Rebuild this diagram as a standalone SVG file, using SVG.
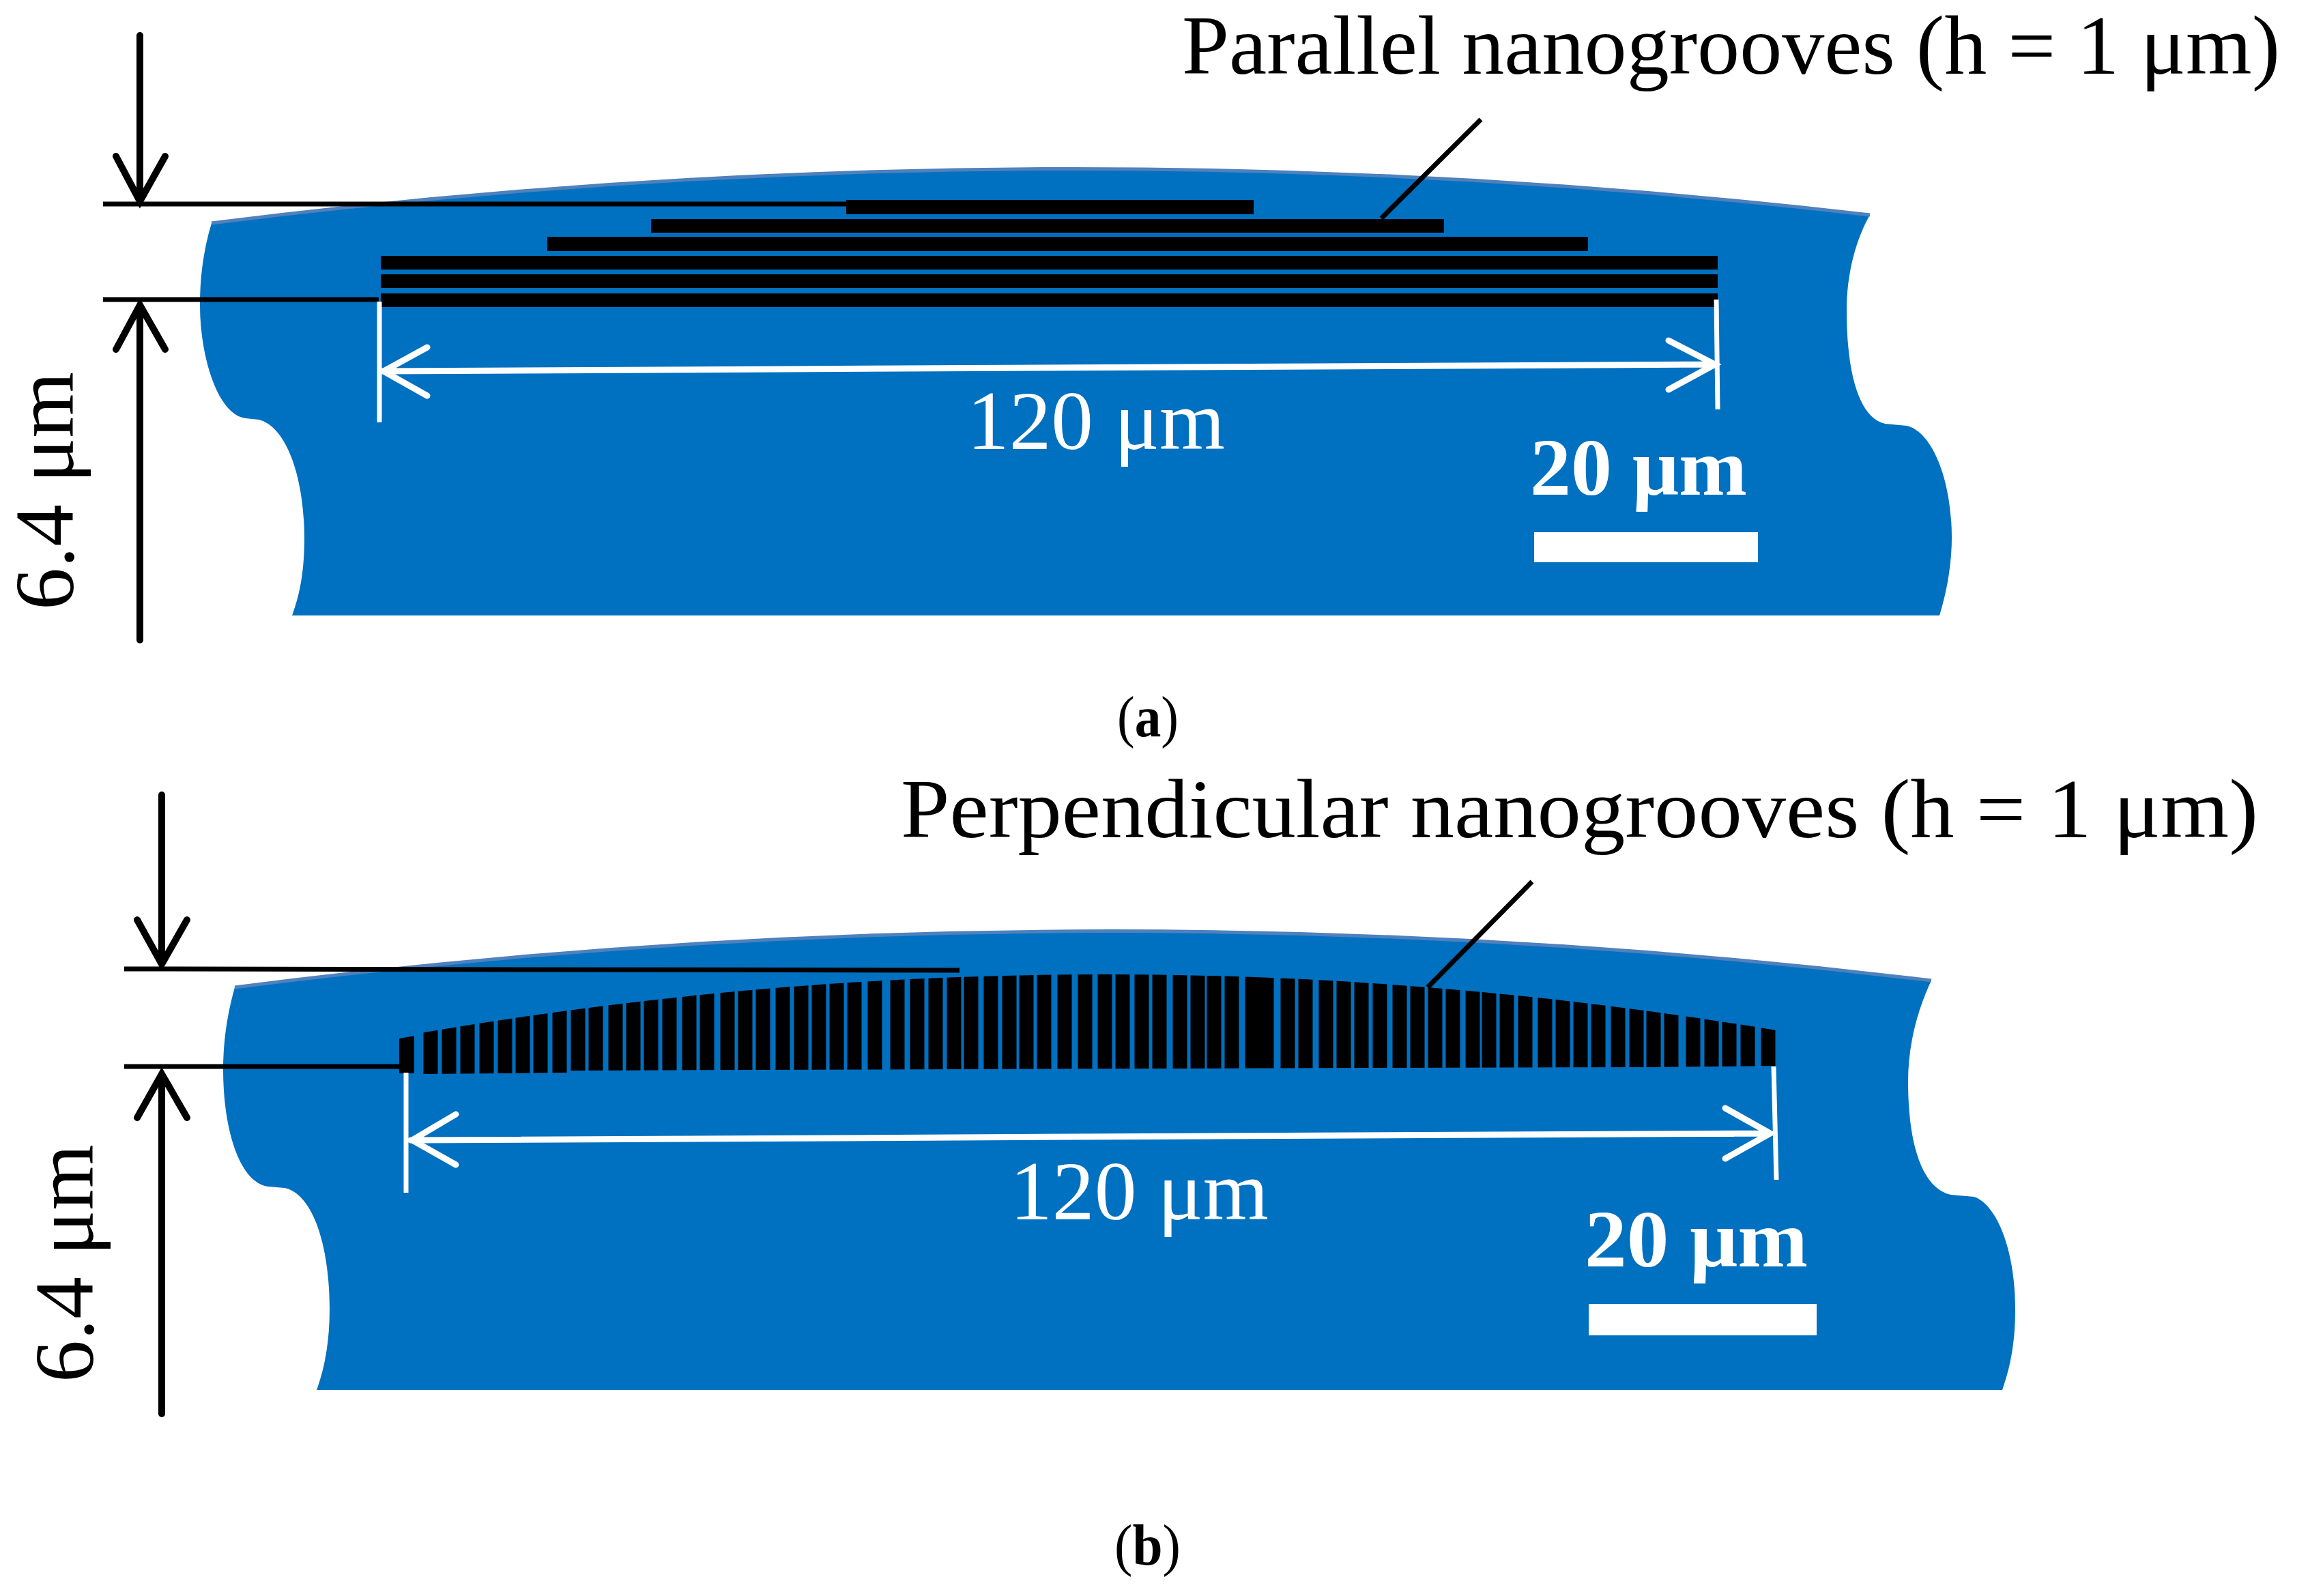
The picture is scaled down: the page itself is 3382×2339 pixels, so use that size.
<svg xmlns="http://www.w3.org/2000/svg" width="3382" height="2339" viewBox="0 0 3382 2339">
<style>
.blue{fill:#0070c0}
.rim{fill:none;stroke:#4f81bd;stroke-width:5}
.bar{fill:#000}
.k{fill:none;stroke:#000;stroke-width:10;stroke-linecap:round;stroke-linejoin:miter}
.kl{fill:none;stroke:#000;stroke-width:7}
.w{fill:none;stroke:#fff;stroke-width:9;stroke-linecap:round}
.wl{fill:none;stroke:#fff;stroke-width:7}
text{font-family:"Liberation Serif","Times New Roman",serif}
.lbl{font-size:122px;fill:#000}
.dim{font-size:122px;fill:#fff}
.sc{font-size:118px;fill:#fff;font-weight:bold}
.cap{font-size:84px;fill:#000}
</style>
<defs>
<clipPath id="bandClip"><path d="M620 1513.2Q1610.5 1344.4 2603 1510L2603 1562L2412 1564L2000 1565L1400 1567L833 1569L832 1572L620 1574Z"/></clipPath>
</defs>
<rect width="3382" height="2339" fill="#fff"/>

<g id="panel-a-body">
<path class="blue" d="M310 327Q1525 174 2740 315C2720 350 2706 400 2706 455C2706 550 2725 612 2762 621L2794 624C2830 632 2860 700 2860 788C2860 820 2855 860 2842 902L428 902C440 870 446 835 446 788C446 700 420 625 379 615L360 613C318 608 293 520 293 448C293 410 297 370 310 327Z"/>
<path class="rim" d="M310 327Q1525 174 2740 315"/>
</g>
<g id="panel-a-grooves">
<rect class="bar" x="1240" y="293" width="597" height="21"/>
<rect class="bar" x="954" y="321" width="1162" height="20"/>
<rect class="bar" x="802" y="347" width="1525" height="21"/>
<rect class="bar" x="558" y="375" width="1959" height="20"/>
<rect class="bar" x="558" y="402" width="1959" height="20"/>
<rect class="bar" x="558" y="430" width="1959" height="20"/>
</g>
<g id="panel-a-scale">
<rect x="2248" y="780" width="328" height="44" fill="#fff"/>
<text class="sc" x="2242" y="725" textLength="318" lengthAdjust="spacingAndGlyphs">20 μm</text>
</g>
<g id="panel-a-labels">
<text class="lbl" x="1732" y="108" textLength="1609" lengthAdjust="spacingAndGlyphs">Parallel nanogrooves (h = 1 μm)</text>
<text class="dim" x="1417" y="658" textLength="378" lengthAdjust="spacingAndGlyphs">120 μm</text>
<text class="lbl" transform="translate(107 894) rotate(-90)" textLength="349" lengthAdjust="spacingAndGlyphs">6.4 μm</text>
<text class="cap" x="1637" y="1079" textLength="90" lengthAdjust="spacingAndGlyphs">(<tspan font-weight="bold">a</tspan>)</text>
</g>

<g id="panel-b-body">
<path class="blue" d="M344 1447Q1587 1287.4 2830 1437C2810 1480 2796 1530 2796 1585C2796 1680 2818 1742 2859 1751L2893 1754C2925 1765 2953 1830 2953 1918C2953 1965 2947 2000 2934 2037L464 2037C476 2005 483 1965 483 1918C483 1830 460 1750 417 1741L394 1739C353 1735 327 1660 327 1566C327 1530 332 1490 344 1447Z"/>
<path class="rim" d="M344 1447Q1587 1287.4 2830 1437"/>
</g>
<g id="panel-b-grooves">
<path class="bar" d="M585 1522L607 1518L607 1573L585 1573Z"/>
<path clip-path="url(#bandClip)" fill="none" stroke="#000" stroke-width="21" d="M631 1410V1590M658 1410V1590M685 1410V1590M713 1410V1590M740 1410V1590M766 1410V1590M792 1410V1590M820 1410V1590M847 1410V1590M873 1410V1590M902 1410V1590M928 1410V1590M954 1410V1590M981 1410V1590M1010 1410V1590M1036 1410V1590M1066 1410V1590M1092 1410V1590M1118 1410V1590M1147 1410V1590M1174 1410V1590M1200 1410V1590M1226 1410V1590M1252 1410V1590M1282 1410V1590M1315 1410V1590M1344 1410V1590M1371 1410V1590M1398 1410V1590M1423 1410V1590M1452 1410V1590M1479 1410V1590M1504 1410V1590M1530 1410V1590M1560 1410V1590M1590 1410V1590M1619 1410V1590M1645 1410V1590M1673 1410V1590M1699 1410V1590M1729 1410V1590M1755 1410V1590M1779 1410V1590M1805 1410V1590M1835 1410V1590M1856 1410V1590M1887 1410V1590M1913 1410V1590M1943 1410V1590M1969 1410V1590M1995 1410V1590M2022 1410V1590M2051 1410V1590M2077 1410V1590M2103 1410V1590M2129 1410V1590M2158 1410V1590M2182 1410V1590M2208 1410V1590M2235 1410V1590M2264 1410V1590M2290 1410V1590M2316 1410V1590M2342 1410V1590M2371 1410V1590M2398 1410V1590M2423 1410V1590M2449 1410V1590M2481 1410V1590M2508 1410V1590M2534 1410V1590M2561 1410V1590M2591 1410V1590"/>
</g>
<g id="panel-b-scale">
<rect x="2328" y="1911" width="334" height="46" fill="#fff"/>
<text class="sc" x="2322" y="1856" textLength="327" lengthAdjust="spacingAndGlyphs">20 μm</text>
</g>
<g id="panel-b-labels">
<text class="lbl" x="1320" y="1227" textLength="1989" lengthAdjust="spacingAndGlyphs">Perpendicular nanogrooves (h = 1 μm)</text>
<text class="dim" x="1480" y="1787" textLength="379" lengthAdjust="spacingAndGlyphs">120 μm</text>
<text class="lbl" transform="translate(136 2026) rotate(-90)" textLength="349" lengthAdjust="spacingAndGlyphs">6.4 μm</text>
<text class="cap" x="1633" y="2293" textLength="97" lengthAdjust="spacingAndGlyphs">(<tspan font-weight="bold">b</tspan>)</text>
</g>

<g id="connectors">
<path class="k" d="M205 52V295M170 229L205 295L242 229"/>
<path class="kl" d="M151 299H1240M151 439H555"/>
<path class="k" d="M205 938V447M170 512L205 447L242 512"/>
<path class="kl" d="M2170 175L2024 320"/>
<path class="wl" d="M556 442V619M2515 439L2517 600"/>
<path class="w" d="M560 544L2513 534M626 509L562 544L626 580M2445 499L2513 534L2445 571"/>

<path class="k" d="M237 1165V1413M201 1348L237 1413L274 1348"/>
<path class="kl" d="M182 1420L1406 1422M182 1563H590"/>
<path class="k" d="M237 2072V1574M201 1638L237 1574L274 1638"/>
<path class="kl" d="M2245 1292L2092 1447"/>
<path class="wl" d="M595 1572V1748M2599 1563L2603 1729"/>
<path class="w" d="M602 1671L2594 1661M668 1633L604 1671L668 1707M2528 1624L2594 1661L2528 1698"/>
</g>
</svg>
